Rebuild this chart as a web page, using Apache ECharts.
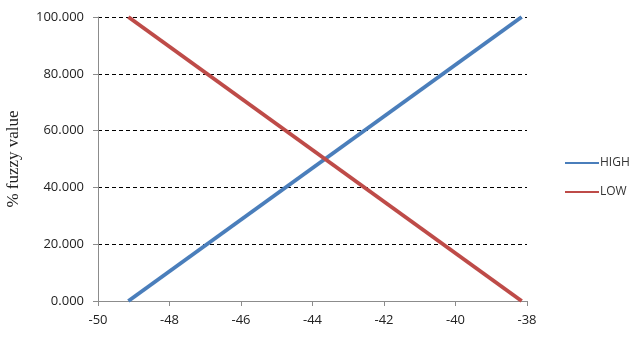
<!DOCTYPE html>
<html>
<head>
<meta charset="utf-8">
<script src="https://cdn.jsdelivr.net/npm/echarts@6/dist/echarts.min.js"></script>
<style>
html,body{margin:0;padding:0;background:#fff;}
#chart{width:633px;height:337px;}
</style>
</head>
<body>
<div id="chart"></div>
<script>
// Membership functions: signal level (x) vs. fuzzy membership (%)
const seriesNames = ['HIGH', 'LOW'];
const highPoints = [[-49.15, 0], [-38.15, 100]];
const lowPoints = [[-49.15, 100], [-38.15, 0]];
const xTicks = { min: -50, max: -38, step: 2 };
const yTicks = { min: 0, max: 100, step: 20 };

const chart = echarts.init(document.getElementById('chart'), null, { renderer: 'canvas' });
const labelFont = '"Open Sans", "Liberation Sans", sans-serif';

chart.setOption({
  animation: false,
  backgroundColor: '#ffffff',
  grid: { left: 98, right: 106, top: 17, bottom: 36, containLabel: false, outerBoundsMode: 'none' },
  legend: {
    orient: 'vertical',
    left: 565,
    top: 157,
    padding: 0,
    itemGap: 17,
    itemWidth: 34,
    itemHeight: 2,
    icon: 'rect',
    textStyle: { fontFamily: labelFont, fontSize: 12, color: '#333', padding: [0, 0, 0, -4] },
    data: seriesNames
  },
  xAxis: {
    type: 'value',
    min: xTicks.min,
    max: xTicks.max,
    interval: xTicks.step,
    axisLine: { show: true, onZero: false, lineStyle: { color: '#8c8c8c', width: 1 } },
    axisTick: { show: true, length: 5, lineStyle: { color: '#8c8c8c' } },
    axisLabel: { fontFamily: labelFont, fontSize: 13, color: '#222', margin: 13 },
    splitLine: { show: false }
  },
  yAxis: {
    type: 'value',
    min: yTicks.min,
    max: yTicks.max,
    interval: yTicks.step,
    name: '% fuzzy value',
    nameLocation: 'middle',
    nameGap: 76,
    nameRotate: 90,
    nameTextStyle: { fontFamily: '"Liberation Serif", "DejaVu Serif", serif', fontSize: 17, color: '#222' },
    axisLine: { show: true, lineStyle: { color: '#8c8c8c', width: 1 } },
    axisTick: { show: true, length: 5, lineStyle: { color: '#8c8c8c' } },
    axisLabel: {
      fontFamily: labelFont, fontSize: 13, color: '#222', margin: 14,
      formatter: v => v.toFixed(3)
    },
    splitLine: { show: true, lineStyle: { color: '#000', type: [4, 3], width: 1 } }
  },
  series: [
    {
      name: seriesNames[0],
      type: 'line',
      data: highPoints,
      showSymbol: false,
      color: '#4a7ebb',
      lineStyle: { width: 4, color: '#4a7ebb' }
    },
    {
      name: seriesNames[1],
      type: 'line',
      data: lowPoints,
      showSymbol: false,
      color: '#be4b48',
      lineStyle: { width: 4, color: '#be4b48' }
    }
  ]
});
</script>
</body>
</html>
